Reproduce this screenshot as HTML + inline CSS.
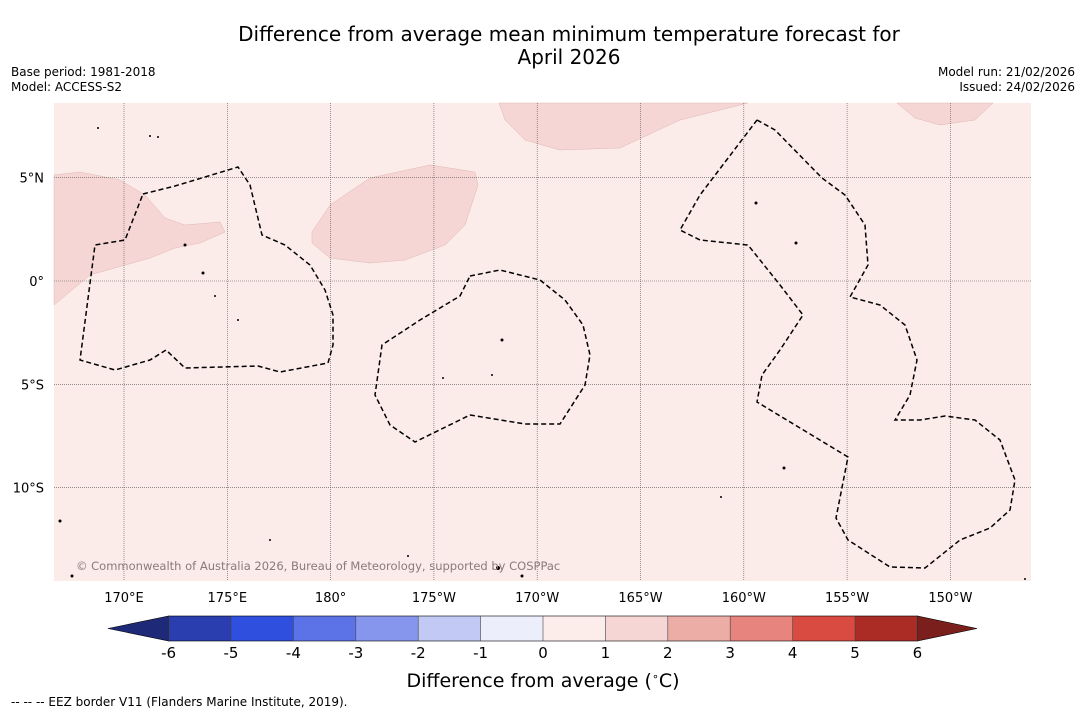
<!DOCTYPE html>
<html><head><meta charset="utf-8"><style>
body{margin:0;background:#fff;width:1085px;height:713px;overflow:hidden;font-family:"DejaVu Sans","Liberation Sans",sans-serif}
svg{display:block;font-family:"DejaVu Sans","Liberation Sans",sans-serif}
</style></head><body>
<svg width="1085" height="713">
<text x="569" y="41" text-anchor="middle" font-size="20">Difference from average mean minimum temperature forecast for</text>
<text x="569" y="64" text-anchor="middle" font-size="20">April 2026</text>
<text x="11" y="76" font-size="12">Base period: 1981-2018</text>
<text x="11" y="91" font-size="12">Model: ACCESS-S2</text>
<text x="1075" y="76" font-size="12" text-anchor="end">Model run: 21/02/2026</text>
<text x="1075" y="91" font-size="12" text-anchor="end">Issued: 24/02/2026</text>
<g id="map">
<rect x="54" y="103" width="977" height="478" fill="#fbebe9"/>
<g fill="#f5d6d4" stroke="#e0b8b5" stroke-width="0.5">
<path d="M54,175 L80,172 L120,180 L145,195 L165,218 L185,225 L220,222 L225,232 L200,243 L175,248 L150,258 L90,275 L54,305 Z"/>
<path d="M312,232 L330,205 L370,178 L430,165 L475,172 L478,185 L465,225 L445,245 L405,260 L370,263 L330,258 L312,243 Z"/>
<path d="M499,103 L505,120 L525,140 L560,150 L620,148 L680,120 L720,110 L748,103 Z"/>
<path d="M897,103 L915,118 L940,125 L975,120 L993,103 Z"/>
</g>
<g id="grid" stroke="#555" stroke-width="0.6" stroke-dasharray="1,1"></g>
<g fill="none" stroke="#000" stroke-width="1.5" stroke-dasharray="5,3">
<path d="M143,194 L175,186 L238,167 L250,185 L262,235 L285,245 L310,265 L325,290 L333,315 L333,345 L328,363 L280,372 L258,366 L185,368 L166,350 L150,360 L115,370 L80,360 L95,245 L125,240 Z"/>
<path d="M470,276 L500,270 L540,280 L565,300 L583,325 L590,355 L585,385 L560,424 L525,424 L470,415 L415,442 L390,425 L375,395 L382,345 L420,320 L460,296 Z"/>
<path d="M757,120 L775,130 L822,178 L845,195 L865,225 L868,265 L850,297 L880,305 L905,325 L917,360 L910,395 L895,420 L920,420 L945,416 L975,420 L1000,440 L1015,480 L1010,510 L990,528 L960,540 L925,568 L890,567 L848,540 L836,518 L848,457 L757,402 L762,375 L780,350 L803,315 L780,285 L748,245 L700,240 L680,230 L700,195 L757,120"/>
</g>
<g fill="#000">
<circle cx="185" cy="245" r="1.5"/><circle cx="203" cy="273" r="1.5"/><circle cx="215" cy="296" r="1"/><circle cx="238" cy="320" r="1"/><circle cx="502" cy="340" r="1.5"/><circle cx="443" cy="378" r="1"/><circle cx="492" cy="375" r="1"/><circle cx="756" cy="203" r="1.5"/><circle cx="796" cy="243" r="1.5"/><circle cx="784" cy="468" r="1.5"/><circle cx="721" cy="497" r="1"/><circle cx="150" cy="136" r="1"/><circle cx="158" cy="137" r="1"/><circle cx="98" cy="128" r="1"/><circle cx="60" cy="521" r="1.5"/><circle cx="498" cy="568" r="2"/><circle cx="522" cy="576" r="1.5"/><circle cx="270" cy="540" r="1"/><circle cx="408" cy="556" r="1"/><circle cx="72" cy="576" r="1.5"/><circle cx="1025" cy="579" r="1"/></g>
<text x="76" y="570" font-size="11.5" fill="#8a7a7a">© Commonwealth of Australia 2026, Bureau of Meteorology, supported by COSPPac</text>
</g>
<g id="axes"></g>
<g id="cbar"></g>
<text x="543" y="687" text-anchor="middle" font-size="19">Difference from average (<tspan font-size="11" dy="-7">∘</tspan><tspan dy="7">C)</tspan></text>
<text x="11" y="706" font-size="12">--  --  -- EEZ border V11 (Flanders Marine Institute, 2019).</text>
</svg>
<script>
const lonTicks=[170,175,180,185,190,195,200,205,210];
const lonLabels=["170°E","175°E","180°","175°W","170°W","165°W","160°W","155°W","150°W"];
const latTicks=[5,0,-5,-10];
const latLabels=["5°N","0°","5°S","10°S"];
const cbarBounds=[-6,-5,-4,-3,-2,-1,0,1,2,3,4,5,6];
const cbarColors=["#2a3eaf","#2f4fdf","#5b73e6","#8696ec","#c1c9f4","#eceefc","#fcecea","#f5d6d4","#ecada7","#e6847d","#d94a40","#ab2b25"];
const NS="http://www.w3.org/2000/svg";
const xLon=l=>124+(l-170)*20.66;
const yLat=l=>281-l*20.66;
const xC=v=>543+v*62.4;
function mk(t,a,p){const e=document.createElementNS(NS,t);for(const k in a)e.setAttribute(k,a[k]);p.appendChild(e);return e;}
const grid=document.getElementById('grid'),axes=document.getElementById('axes'),cb=document.getElementById('cbar');
lonTicks.forEach((l,i)=>{const x=xLon(l);
 const g=mk('line',{x1:x,x2:x,y1:103,y2:581},grid);
 
 
 const t=mk('text',{x:x,y:602,'text-anchor':'middle','font-size':13},axes);t.textContent=lonLabels[i];
 
 });
latTicks.forEach((l,i)=>{const y=yLat(l);
 const g=mk('line',{x1:54,x2:1031,y1:y,y2:y},grid);
 
 
 const t=mk('text',{x:44,y:y+5,'text-anchor':'end','font-size':13},axes);t.textContent=latLabels[i];
 
 });
const y0=616,y1=641;
const lo=mk('polygon',{points:`${xC(-6)},${y0} ${xC(-6)},${y1} 108,${(y0+y1)/2}`,fill:'#1e2a78',stroke:'#000','stroke-width':0.6},cb);


const hi=mk('polygon',{points:`${xC(6)},${y0} ${xC(6)},${y1} 977,${(y0+y1)/2}`,fill:'#7a1f1b',stroke:'#000','stroke-width':0.6},cb);


cbarColors.forEach((c,i)=>{const r=mk('rect',{x:xC(cbarBounds[i]),y:y0,width:xC(cbarBounds[i+1])-xC(cbarBounds[i]),height:y1-y0,fill:c},cb);
 
 });
mk('rect',{x:xC(-6),y:y0,width:xC(6)-xC(-6),height:y1-y0,fill:'none',stroke:'#000','stroke-width':0.6},cb);
cbarBounds.forEach(v=>{const x=xC(v);
 mk('line',{x1:x,x2:x,y1:y0,y2:y1,stroke:'#444','stroke-width':0.6},cb);
 const t=mk('text',{x:x,y:658,'text-anchor':'middle','font-size':15},cb);t.textContent=String(v);
 
 });
</script>
</body></html>
